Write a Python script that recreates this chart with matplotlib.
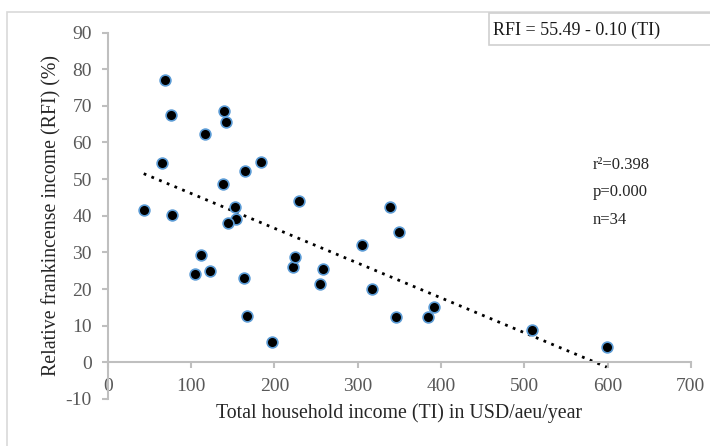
import numpy as np
import matplotlib
matplotlib.use('Agg')
import matplotlib.pyplot as plt
from matplotlib.patches import Rectangle

# Household survey: total income vs share from frankincense
ti = [68, 76, 139, 142, 117, 65, 184, 165, 138, 230, 43, 77, 153, 154, 144,
      112, 104, 123, 164, 167, 197, 222, 225, 258, 255,
      349, 305, 317, 346, 384, 392, 509, 599, 339]
rfi = [77.1, 67.5, 68.6, 65.6, 62.2, 54.4, 54.8, 52.3, 48.7, 44.1, 41.5, 40.2, 42.3, 39.2, 37.9,
       29.2, 24.0, 24.8, 23.1, 12.6, 5.5, 25.9, 28.8, 25.4, 21.5,
       35.6, 32.0, 20.0, 12.5, 12.3, 15.0, 8.7, 4.3, 42.3]

equation = 'RFI = 55.49 - 0.10 (TI)'
stats = ['r\u00b2=0.398', 'p=0.000', 'n=34']

plt.rcParams['font.family'] = ['Liberation Serif', 'DejaVu Serif']
plt.rcParams['axes.unicode_minus'] = False

fig = plt.figure(figsize=(7.1, 4.46), dpi=100)
ax = fig.add_axes([0.152, 0.1054, 0.821, 0.8217])

grey = '#595959'
spine = '#bfbfbf'

# linear trend over the observed income range
slope, icpt = np.polyfit(ti, rfi, 1)
xs = np.array([min(ti), max(ti)])
ax.plot(xs, icpt + slope * xs, color='black', linestyle=(0, (1, 2)), linewidth=2, zorder=2)

ax.scatter(ti, rfi, s=60, color='black', edgecolors='#5b9bd5', linewidths=1.2, zorder=3)

ax.set_xlim(0, 700)
ax.set_ylim(-10, 90)
ax.set_xticks(range(0, 701, 100))
ax.set_yticks(range(-10, 91, 10))

ax.spines['bottom'].set_position(('data', 0))
ax.spines['top'].set_visible(False)
ax.spines['right'].set_visible(False)
for s in ('left', 'bottom'):
    ax.spines[s].set_color(spine)
    ax.spines[s].set_linewidth(1.5)
ax.tick_params(axis='both', colors=spine, width=1.5, length=4.5, labelcolor=grey, labelsize=14)
ax.tick_params(axis='x', pad=7)
ax.tick_params(axis='y', pad=7)

ax.set_xlabel('Total household income (TI) in USD/aeu/year', fontsize=14.3, color='#262626', labelpad=6)
ax.set_ylabel('Relative frankincense income (RFI) (%)', fontsize=14.3, color='#262626', labelpad=3)

for i, t in enumerate(stats):
    ax.text(593 / 710, 1 - (165 + 27.5 * i) / 446, t, transform=fig.transFigure,
            fontsize=12, color='#262626', va='center', ha='left')

# outer frame and equation box
fig.patches.append(Rectangle((7 / 710, -0.1), 1.2, 1 - 12 / 446 + 0.1, transform=fig.transFigure,
                             fill=False, edgecolor='#d9d9d9', linewidth=1.2))
fig.patches.append(Rectangle((489 / 710, 1 - 45 / 446), 0.5, 32 / 446, transform=fig.transFigure,
                             facecolor='white', edgecolor='#d0d0d0', linewidth=1.2))
fig.text(493 / 710, 1 - 30 / 446, equation, fontsize=13, color='#1a1a1a', va='center', ha='left')

fig.savefig('out.png', dpi=100)
